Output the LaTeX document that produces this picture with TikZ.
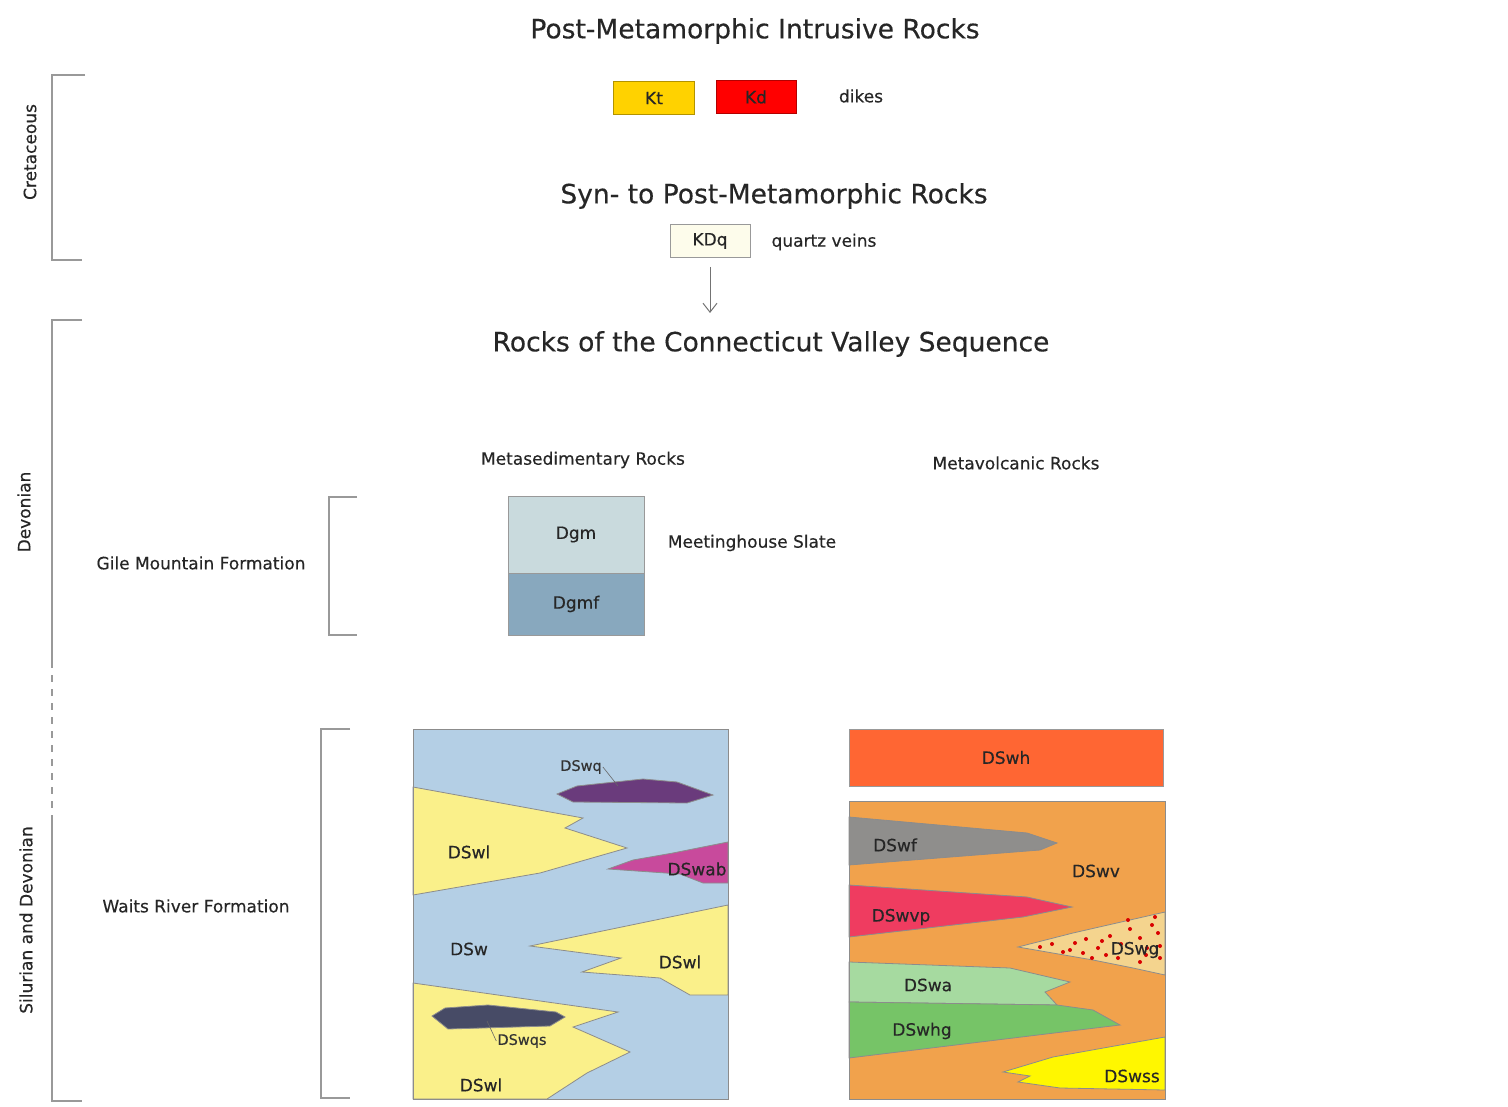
\documentclass[tikz,border=0pt]{standalone}
\usepackage{fontspec}
\setmainfont{DejaVu Sans}[FakeBold=0.4]
\usetikzlibrary{positioning, arrows.meta}

\definecolor{ktGold}{HTML}{FFD200}
\definecolor{kdRed}{HTML}{FF0000}
\definecolor{kdqIvory}{HTML}{FDFCEB}
\definecolor{dgmGrey}{HTML}{C9DADD}
\definecolor{dgmfBlue}{HTML}{88A8BE}
\definecolor{dswBlue}{HTML}{B4CFE5}
\definecolor{dswlYellow}{HTML}{FAF08A}
\definecolor{dswqPurple}{HTML}{6A3B7C}
\definecolor{dswabPink}{HTML}{C84A9C}
\definecolor{dswqsSlate}{HTML}{474B66}
\definecolor{dswhRed}{HTML}{FF6633}
\definecolor{dswvOrange}{HTML}{F1A24C}
\definecolor{dswfGrey}{HTML}{8F8E8C}
\definecolor{dswvpRed}{HTML}{EF3C60}
\definecolor{dswgSand}{HTML}{F4D48E}
\definecolor{dswaGreen}{HTML}{A6DAA0}
\definecolor{dswhgGreen}{HTML}{76C467}
\definecolor{dswssYellow}{HTML}{FFF700}

\begin{document}
\begin{tikzpicture}[x=1pt,y=-1pt,
    title/.style={font=\fontsize{26.5}{30}\selectfont, text=black!85},
    label/.style={font=\fontsize{17}{20}\selectfont, text=black!85},
    small/.style={font=\fontsize{14.5}{17}\selectfont, text=black!80},
    unit/.style={draw=black!40, line width=1pt, inner sep=0pt,
      font=\fontsize{17}{20}\selectfont, text=black!85},
    bracket/.style={draw=black!40, line width=1.4pt},
    rock/.style={draw=black!45, line width=0.8pt},
  ]
  \useasboundingbox (0,0) rectangle (1508,1107);

  % headings
  \node [title] (pmi) at (755,31) {Post-Metamorphic Intrusive Rocks};
  \node [title] (spm) at (774,196) {Syn- to Post-Metamorphic Rocks};
  \node [title] (cvs) at (771,344) {Rocks of the Connecticut Valley Sequence};

  % intrusive units
  \node [unit, fill=ktGold, draw=ktGold!70!black, minimum width=81pt, minimum height=33pt] (Kt) at (654,98) {Kt};
  \node [unit, fill=kdRed, draw=kdRed!70!black, minimum width=80pt, minimum height=33pt] (Kd) at (756,97) {Kd};
  \node [label] (dikes) at (861,96) {dikes};
  \node [unit, fill=kdqIvory, minimum width=80pt, minimum height=33pt] (KDq) at (710,241) {KDq};
  \node [label] (qv) at (824,242) {quartz veins};
  \coordinate (arrowEnd) at (710,313);
  \draw [-{Straight Barb[length=9pt,width=14pt,line width=1pt]}, draw=black!55, line width=0.9pt, shorten <=9pt] (KDq.south) -- (arrowEnd);

  % column heads
  \node [label] (msed) at (583,460) {Metasedimentary Rocks};
  \node [label] (mvol) at (1016,463) {Metavolcanic Rocks};

  % Gile Mountain Formation
  \node [unit, fill=dgmGrey, minimum width=136pt, minimum height=77pt] (Dgm) at (576,534.5) {Dgm};
  \node [unit, fill=dgmfBlue, minimum width=136pt, minimum height=62pt] (Dgmf) at (576,604) {Dgmf};
  \node [label] (mhs) at (752,543) {Meetinghouse Slate};
  \node [label] (gile) at (201,563) {Gile Mountain Formation};
  \draw [bracket] (357,497) -- (329,497) -- (329,635) -- (357,635);

  % Waits River Formation
  \node [label] (waits) at (196,906) {Waits River Formation};
  \draw [bracket] (350,729) -- (321,729) -- (321,1098) -- (350,1098);

  % periods
  \draw [bracket] (85,75) -- (52,75) -- (52,260) -- (82,260);
  \node [label, rotate=90] (cret) at (30,152) {Cretaceous};
  \draw [bracket] (82,320) -- (52,320) -- (52,668);
  \draw [bracket, dash pattern=on 7pt off 7pt] (52,675) -- (52,815);
  \draw [bracket] (52,815) -- (52,1101) -- (82,1101);
  \node [label, rotate=90] (dev) at (24,512) {Devonian};
  \node [label, rotate=90] (sildev) at (26,920) {Silurian and Devonian};

  % metasedimentary block
  \fill [dswBlue, draw=black!40, line width=1pt] (413,729) rectangle (728,1099);
  \filldraw [rock, fill=dswlYellow] (413,787) -- (583,818) -- (565,828) -- (627,848) -- (540,873) -- (413,895) -- cycle;
  \filldraw [rock, fill=dswlYellow] (728,905) -- (530,946) -- (621,958) -- (582,972) -- (660,978) -- (690,995) -- (728,995) -- cycle;
  \filldraw [rock, fill=dswlYellow] (413,983) -- (618,1012) -- (573,1027) -- (630,1052) -- (587,1073) -- (547,1099) -- (413,1099) -- cycle;
  \filldraw [rock, fill=dswqPurple] (557,794) -- (577,786) -- (643,779) -- (677,782) -- (713,795) -- (687,803) -- (573,802) -- cycle;
  \filldraw [rock, fill=dswabPink] (608,869) -- (633,860) -- (673,853) -- (728,842) -- (728,883) -- (703,883) -- (680,874) -- cycle;
  \filldraw [rock, fill=dswqsSlate] (432,1016) -- (448,1029) -- (550,1026) -- (565,1017) -- (556,1012) -- (488,1005) -- (445,1008) -- cycle;
  \draw [rock, line width=1pt] (413,729) rectangle (728,1099);
  \node [label] (dswl1) at (469,852) {DSwl};
  \node [label] (dswab) at (697,869) {DSwab};
  \node [label] (dsw) at (469,949) {DSw};
  \node [label] (dswl2) at (680,962) {DSwl};
  \node [label] (dswl3) at (481,1085) {DSwl};
  \node [small, inner sep=1pt] (dswq) at (581,767) {DSwq};
  \draw [draw=black!60, line width=0.6pt] (dswq.east) -- (618,786);
  \node [small, inner sep=1pt] (dswqs) at (522,1041) {DSwqs};
  \draw [draw=black!60, line width=0.6pt] (487,1021) -- (dswqs.west);

  % metavolcanic block
  \node [unit, fill=dswhRed, minimum width=314pt, minimum height=57pt] (DSwh) at (1006,757.5) {DSwh};
  \fill [dswvOrange] (849,801) rectangle (1165,1099);
  \filldraw [rock, fill=dswfGrey] (849,817) -- (1027,833) -- (1057,843) -- (1040,850) -- (849,865) -- cycle;
  \filldraw [rock, fill=dswvpRed] (849,885) -- (1027,897) -- (1072,907) -- (1023,917) -- (849,937) -- cycle;
  \filldraw [rock, fill=dswgSand] (1018,947) -- (1073,933) -- (1165,912) -- (1165,975) -- (1133,968) -- (1093,960) -- cycle;
  \foreach \dx/\dy in {1040/947, 1052/944, 1063/952, 1075/943, 1086/939, 1098/948, 1110/936, 1121/944,
      1130/929, 1140/938, 1152/925, 1158/933, 1147/948, 1160/958, 1118/958, 1106/955, 1083/953,
      1070/950, 1092/958, 1140/962, 1155/917, 1128/920, 1146/955, 1102/941, 1160/946}
    \fill [red!85!black] (\dx,\dy) circle (2pt);
  \filldraw [rock, fill=dswaGreen] (849,962) -- (1010,968) -- (1070,982) -- (1045,992) -- (1057,1005) -- (849,1002) -- cycle;
  \filldraw [rock, fill=dswhgGreen] (849,1002) -- (1057,1005) -- (1093,1010) -- (1120,1025) -- (849,1058) -- cycle;
  \filldraw [rock, fill=dswssYellow] (1003,1072) -- (1053,1057) -- (1165,1037) -- (1165,1090) -- (1060,1088) -- (1018,1082) -- (1030,1076) -- cycle;
  \draw [rock, line width=1pt] (849,801) rectangle (1165,1099);
  \node [label] (dswf) at (895,845) {DSwf};
  \node [label] (dswv) at (1096,871) {DSwv};
  \node [label] (dswvp) at (901,917) {DSwvp};
  \node [label] (dswg) at (1135,950) {DSwg};
  \node [label] (dswa) at (928,985) {DSwa};
  \node [label] (dswhg) at (922,1031) {DSwhg};
  \node [label] (dswss) at (1132,1076) {DSwss};
\end{tikzpicture}
\end{document}
